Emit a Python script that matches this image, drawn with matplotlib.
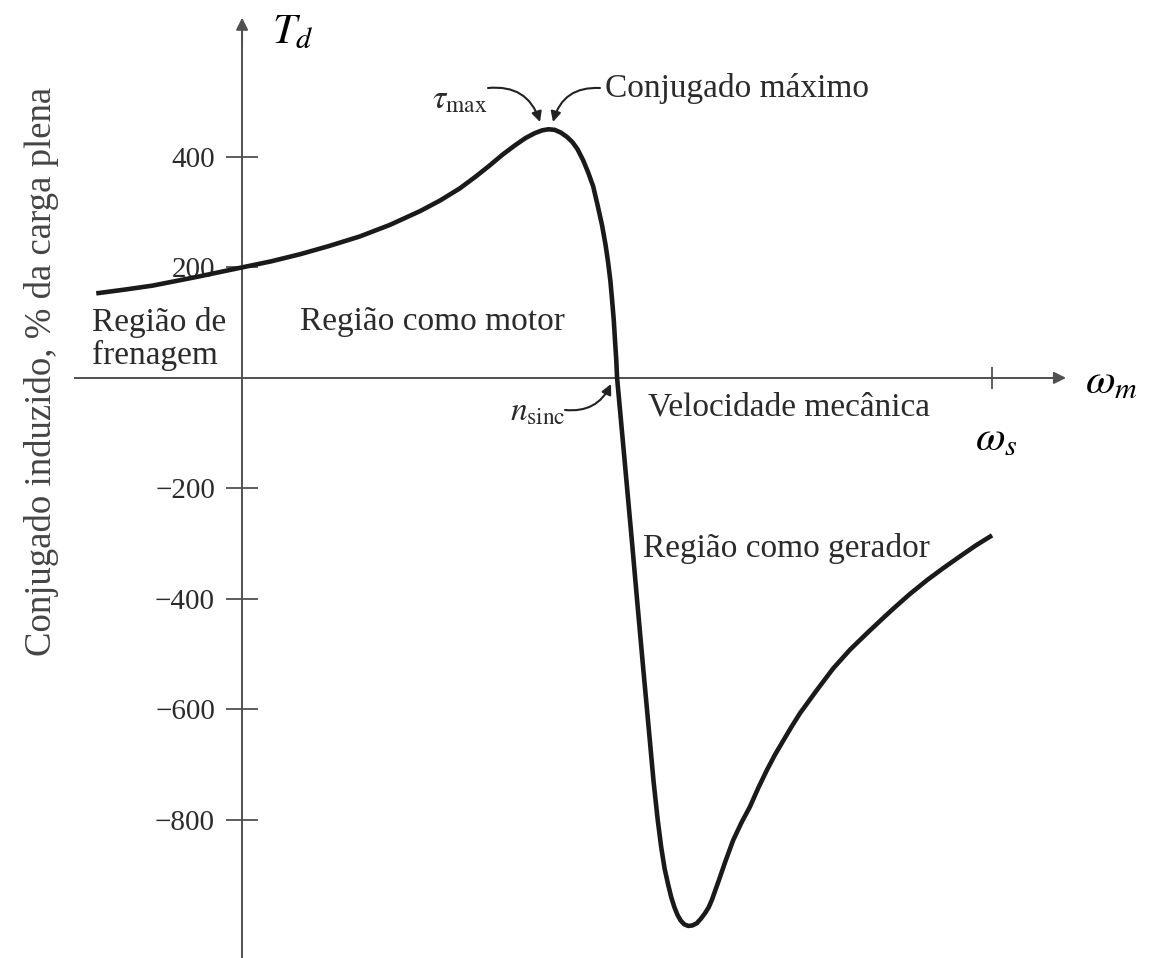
import matplotlib.pyplot as plt

plt.rcParams["font.family"] = "Liberation Serif"
plt.rcParams["mathtext.fontset"] = "stix"

# Curva conjugado x velocidade da máquina de indução
velocidade_rpm = [
    -700, -560, -430, -215, 0, 140, 280, 420, 565, 710, 855, 950, 1045,
    1120, 1190, 1250, 1310, 1360, 1405, 1440, 1470, 1500, 1530, 1560, 1585,
    1610, 1637, 1660, 1685, 1705, 1728, 1745, 1757, 1768, 1776, 1784, 1790,
    1796, 1800,
    1836, 1872, 1896, 1925, 1954, 1975, 1995, 2012, 2028, 2045, 2060, 2075,
    2090, 2105, 2122, 2142, 2162, 2183, 2202, 2222, 2240, 2255, 2270, 2287,
    2320, 2357, 2397, 2438, 2478, 2519, 2558, 2597, 2638, 2678, 2757, 2837,
    2918, 3000, 3062, 3125, 3206, 3288, 3367, 3446, 3523, 3600,
]
conjugado_pct = [
    153, 160, 167, 183, 200, 211, 224, 239, 256, 277, 302, 321, 343,
    364, 385, 404, 421, 434, 443, 448, 450, 449, 444, 436, 427,
    414, 394, 373, 347, 315, 276, 240, 209, 175, 141, 105, 68,
    33, 0,
    -149, -299, -402, -524, -643, -730, -800, -850, -888, -917, -940, -958,
    -972, -982, -989, -992, -991, -987, -979, -969, -958, -945, -929, -911,
    -875, -837, -805, -776, -742, -710, -682, -657, -631, -607, -566, -526,
    -492, -462, -440, -418, -391, -366, -344, -323, -303, -285,
]

ticks_conjugado = [-800, -600, -400, -200, 200, 400]
velocidade_sinc = 1800
velocidade_max = 3600

W, H = 1170, 958
cinza = "#505050"
texto = "#2b2b2b"


def at(px, py):
    return (px / W, 1 - py / H)


fig = plt.figure(figsize=(W / 100, H / 100), dpi=100)
ax = fig.add_axes([0, 0, 1, 1])
ax.set_xlim(-1162, 4454)
ax.set_ylim(-1050, 684)

# eixos cruzando na origem
for lado in ["top", "right"]:
    ax.spines[lado].set_visible(False)
ax.spines["left"].set_position(("data", 0))
ax.spines["bottom"].set_position(("data", 0))
ax.spines["left"].set_bounds(-1050, 640)
ax.spines["bottom"].set_bounds(-800, 3930)
for lado in ["left", "bottom"]:
    ax.spines[lado].set_color(cinza)
    ax.spines[lado].set_linewidth(1.4)

seta = dict(arrowstyle="-|>", color=cinza, lw=1.4, mutation_scale=18,
            shrinkA=0, shrinkB=0)
ax.annotate("", xy=(0, 652), xytext=(0, 600), arrowprops=seta)
ax.annotate("", xy=(3955, 0), xytext=(3880, 0), arrowprops=seta)

ax.set_yticks(ticks_conjugado)
ax.tick_params(axis="y", direction="inout", length=23, width=1.3, color=cinza,
               labelsize=21, labelcolor=texto, pad=8)
ax.set_xticks([velocidade_max])
ax.set_xticklabels([""])
ax.tick_params(axis="x", direction="inout", length=16, width=1.3, color=cinza)

ax.plot(velocidade_rpm, conjugado_pct, color="#1a1a1a", lw=3.3,
        solid_joinstyle="round", solid_capstyle="butt", zorder=3)

tr = ax.transAxes
ax.text(*at(42, 371), "Conjugado induzido, % da carga plena", rotation=90,
        fontsize=26.5, color="#444444", ha="center", va="center", transform=tr)
ax.text(*at(92, 339), "Região de\nfrenagem", fontsize=24, color=texto,
        ha="left", va="center", linespacing=1.12, transform=tr)
ax.text(*at(300, 322), "Região como motor", fontsize=24, color=texto,
        ha="left", va="center", transform=tr)
ax.text(*at(605, 88), "Conjugado máximo", fontsize=24, color=texto,
        ha="left", va="center", transform=tr)
ax.text(*at(648, 407), "Velocidade mecânica", fontsize=24, color=texto,
        ha="left", va="center", transform=tr)
ax.text(*at(643, 548), "Região como gerador", fontsize=24, color=texto,
        ha="left", va="center", transform=tr)
ax.text(*at(432, 100), r"$\tau_{\mathrm{max}}$", fontsize=24, color=texto,
        ha="left", va="center", transform=tr)
ax.text(*at(510, 412), r"$n_{\mathrm{sinc}}$", fontsize=24, color=texto,
        ha="left", va="center", transform=tr)

ax.text(*at(272, 33), r"$T_d$", fontsize=31, color="black",
        ha="left", va="center", transform=tr)
ax.text(*at(1085, 383), r"$\omega_m$", fontsize=31, color="black",
        ha="left", va="center", transform=tr)
ax.text(*at(975, 440), r"$\omega_s$", fontsize=31, color="black",
        ha="left", va="center", transform=tr)

# setas curvas das anotações
fina = dict(arrowstyle="-|>", color="#222222", lw=1.5, mutation_scale=15,
            shrinkA=0, shrinkB=0)
ax.annotate("", xy=at(540, 122), xytext=at(488, 88), xycoords="axes fraction",
            arrowprops=dict(fina, connectionstyle="arc3,rad=-0.4"))
ax.annotate("", xy=at(553, 122), xytext=at(600, 88), xycoords="axes fraction",
            arrowprops=dict(fina, connectionstyle="arc3,rad=0.4"))
ax.annotate("", xy=at(611, 384), xytext=at(565, 410), xycoords="axes fraction",
            arrowprops=dict(fina, connectionstyle="arc3,rad=0.35"))

fig.savefig("out.png", dpi=100)
